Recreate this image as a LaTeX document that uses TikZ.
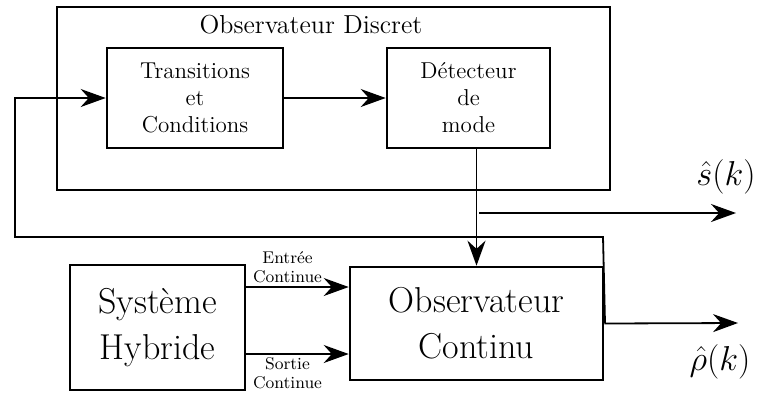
\documentclass[tikz,border=0pt]{standalone}
\usepackage{tikz}
\usetikzlibrary{arrows.meta,positioning,calc}
\usepackage{amsmath}

\tikzset{
  bloc/.style={draw,line width=1.3pt,align=center,inner sep=0pt},
  petit/.style={font=\fontsize{11.5}{13.5}\selectfont},
  grand/.style={font=\fontsize{18}{23}\selectfont},
  etiq/.style={font=\fontsize{8.5}{9.5}\selectfont,align=center,inner sep=1.5pt},
  fleche/.style={line width=0.9pt,-{Stealth[length=12.5pt,width=9pt]}},
  ligne/.style={line width=0.9pt}
}

\begin{document}
\begin{tikzpicture}[x=0.5pt,y=-0.5pt]
  \useasboundingbox (0,0) rectangle (758,398);
  % observateur discret
  \node[draw,line width=1.1pt,minimum width=276.5pt,minimum height=91.5pt] (discret) at (333.5,98.5) {};
  \node[font=\fontsize{13}{15}\selectfont] (titre) at (311,25) {Observateur Discret};
  \node[bloc,petit,minimum width=88pt,minimum height=50pt] (trans) at (195,98) {Transitions\\et\\Conditions};
  \node[bloc,petit,minimum width=81.5pt,minimum height=50pt] (detect) at (468.5,98) {D\'etecteur\\de\\mode};
  % observateur continu
  \node[bloc,grand,minimum width=87.5pt,minimum height=62.5pt] (sys) at (157.5,327.5) {Syst\`eme\\Hybride};
  \node[bloc,grand,minimum width=126.5pt,minimum height=56.5pt] (cont) at (476.5,323.5) {Observateur\\Continu};
  % sorties
  \coordinate (s0) at (479,213);
  \coordinate (s1) at (736,213);
  \coordinate (r1) at (738,323);
  \coordinate (fb) at (605,323);
  \coordinate (fbh) at (603,237);
  \coordinate (fbg) at (15,237);
  \node[font=\fontsize{17}{20}\selectfont] (shat) at (726,177) {$\hat{s}(k)$};
  \node[font=\fontsize{17}{20}\selectfont] (rhat) at (720,362) {$\hat{\rho}(k)$};

  \draw[fleche] (trans) -- (detect);
  \draw[fleche] (detect.south -| cont.north) -- (cont.north);
  \draw[fleche] (s0) -- (s1);
  \draw[fleche] (cont.east) -- (r1);
  \draw[fleche] (fb) -- (fbh) -- (fbg) |- (trans.west);
  \draw[fleche] ([yshift=20.25pt]sys.east) -- ([yshift=20.25pt]sys.east -| cont.west)
    node[midway,above,etiq,xshift=-5pt] {Entr\'ee\\Continue};
  \draw[fleche] ([yshift=-13.25pt]sys.east) -- ([yshift=-13.25pt]sys.east -| cont.west)
    node[midway,below,etiq,xshift=-5pt] {Sortie\\Continue};
\end{tikzpicture}
\end{document}
